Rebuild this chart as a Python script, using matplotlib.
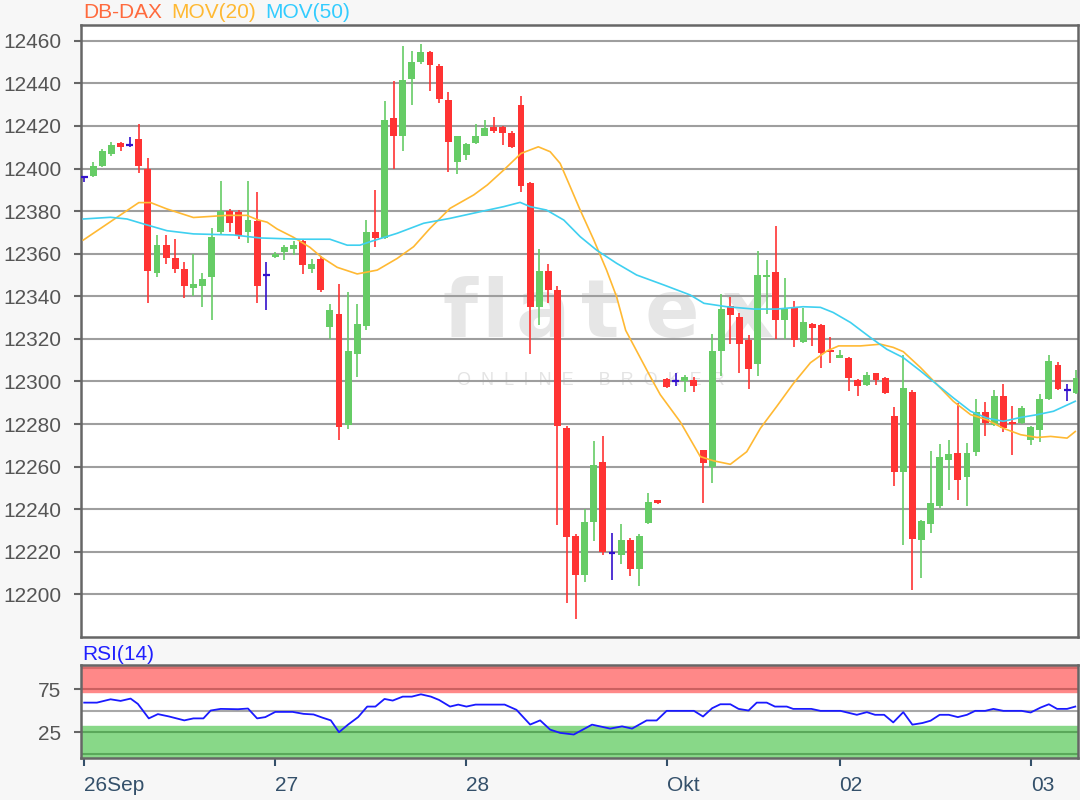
import numpy as np
import matplotlib.pyplot as plt

plt.rcParams['font.family'] = ['Liberation Sans', 'DejaVu Sans']

# OHLC candles (one per trading interval)
opens = [12396, 12396.5, 12401, 12407, 12412, 12411, 12414, 12400, 12351, 12364,
         12358, 12353, 12344, 12345, 12349, 12370, 12380, 12379.5, 12370, 12375.5,
         12350, 12358.5, 12361, 12362, 12366, 12353, 12357.5, 12325.5, 12331.5, 12279.5,
         12313, 12326, 12370, 12367.5, 12423.5, 12415.5, 12442, 12450, 12454.5, 12448,
         12432, 12403, 12406.5, 12412, 12415.5, 12419.5, 12419.5, 12416.5, 12430, 12393,
         12335, 12352, 12343, 12278, 12227.5, 12209, 12234, 12262, 12219.5, 12218.5,
         12225.5, 12212, 12233.5, 12244.5, 12301, 12300, 12300, 12300.5, 12268, 12260,
         12314.5, 12335.5, 12330.5, 12319.5, 12308, 12349, 12351.5, 12329, 12335, 12318.5,
         12327, 12326.5, 12315, 12311, 12311, 12300.5, 12298.5, 12304, 12301.5, 12284,
         12257.5, 12295, 12225.5, 12233, 12241.5, 12263, 12266.5, 12255, 12267, 12285.5,
         12279.5, 12293, 12281, 12280.5, 12272.5, 12277, 12292, 12307.5, 12296, 12294.5]
highs = [12396.5, 12403, 12409, 12412.5, 12412.5, 12415, 12421, 12405, 12369, 12369,
         12367, 12356, 12360, 12351, 12372, 12394, 12381, 12380.5, 12394, 12389,
         12356, 12361, 12364, 12366, 12367, 12357.5, 12359, 12336.5, 12346, 12342,
         12336.5, 12376, 12390, 12431.5, 12441, 12457.5, 12455, 12458.5, 12455, 12449,
         12436, 12415.5, 12412, 12421, 12423, 12424, 12420, 12417.5, 12434, 12393.5,
         12362, 12355, 12345, 12279, 12228.5, 12240, 12272, 12274.5, 12229, 12233,
         12226.5, 12228.5, 12247.5, 12244.5, 12301.5, 12304, 12303, 12302, 12268, 12322.5,
         12341, 12339.5, 12332, 12322, 12361.5, 12357, 12373, 12348.5, 12338, 12334.5,
         12327.5, 12327, 12321, 12315, 12311.5, 12301, 12304.5, 12304, 12302, 12288,
         12312.5, 12296, 12235, 12267.5, 12270.5, 12272.5, 12290, 12271, 12292, 12290.5,
         12296, 12299, 12288.5, 12288.5, 12279, 12294, 12312.5, 12309, 12299, 12305.5]
lows = [12393.5, 12396, 12400.5, 12406, 12408, 12410, 12398, 12337, 12349, 12355,
        12351, 12339, 12340, 12335, 12329, 12369, 12370, 12367, 12365, 12337,
        12333.5, 12358, 12357, 12359.5, 12350.5, 12351, 12342, 12320, 12272.5, 12277.5,
        12302, 12324, 12363, 12367, 12400, 12408, 12430, 12449, 12436.5, 12431,
        12398.5, 12397.5, 12404, 12411.5, 12415.5, 12416.5, 12411, 12409.5, 12389, 12313,
        12326.5, 12337, 12232.5, 12196, 12188.5, 12206, 12225, 12218.5, 12207, 12214.5,
        12208.5, 12204, 12233, 12242.5, 12297, 12298, 12295, 12295, 12243, 12252.5,
        12302.5, 12317.5, 12304, 12296.5, 12302.5, 12331.5, 12320, 12320, 12316, 12318,
        12316.5, 12306.5, 12308.5, 12311, 12295.5, 12293, 12298, 12298.5, 12294, 12251,
        12223, 12202, 12207.5, 12229, 12240.5, 12249, 12244.5, 12241.5, 12265, 12274.5,
        12279, 12276.5, 12265.5, 12280, 12270, 12271.5, 12291.5, 12296, 12291, 12294]
closes = [12396, 12401, 12408, 12411, 12410, 12411, 12401, 12352, 12364, 12358,
          12353, 12345, 12346, 12348, 12368, 12380, 12374.5, 12369, 12376, 12345,
          12350, 12360, 12363, 12364, 12354.5, 12355, 12343, 12333.5, 12278.5, 12314.5,
          12327, 12370, 12367.5, 12423, 12415.5, 12441.5, 12450, 12454.5, 12448.5, 12432.5,
          12412.5, 12415.5, 12411.5, 12415.5, 12419, 12417.5, 12416.5, 12410, 12392, 12335,
          12352, 12343, 12279, 12227, 12209, 12234, 12261, 12220, 12219.5, 12225.5,
          12212, 12227.5, 12243.5, 12243, 12297.5, 12300, 12302, 12298, 12261.5, 12314.5,
          12334, 12331, 12317.5, 12306, 12350, 12350, 12329, 12334, 12319.5, 12328,
          12325, 12313.5, 12314, 12312.5, 12301.5, 12298, 12303, 12300.5, 12294.5, 12257.5,
          12297, 12226, 12234.5, 12243, 12264.5, 12266, 12253.5, 12266.5, 12285.5, 12280.5,
          12293, 12278, 12280, 12287.5, 12278.5, 12292, 12309.5, 12296.5, 12296, 12301.5]

# moving averages (x = candle position)
ma20_x = [-0.1, 6.0, 7.3, 9.1, 12.0, 15.7, 17.9, 19.0, 20.1, 21.2, 23.0, 24.8, 26.1, 27.8,
          30.0, 32.2, 34.4, 36.2, 38.0, 40.2, 42.8, 44.3, 46.1, 48.0, 49.9, 51.2, 52.3,
          53.4, 54.5, 56.0, 57.4, 58.5, 59.5, 62.2, 63.3, 65.5, 67.7, 69.2, 71.0, 72.8,
          74.3, 76.1, 77.9, 79.8, 81.6, 82.9, 85.3, 87.5, 88.9, 90.0, 91.9, 93.7, 95.5,
          97.4, 99.2, 101.0, 102.9, 104.7, 106.2, 108.0, 108.9]
ma20 = [12366.4, 12384, 12384, 12381, 12377, 12378, 12378, 12376, 12374.8, 12371.6,
        12367.7, 12363, 12358.3, 12353.6, 12350.5, 12352.3, 12357.8, 12363.3, 12371.9,
        12381.3, 12387.6, 12392.3, 12399.3, 12407.1, 12410.2, 12407.9, 12402.4, 12391.5,
        12380.5, 12366.4, 12352.3, 12339.8, 12324, 12302.3, 12293.8, 12281, 12264.7,
        12262.7, 12261.1, 12267, 12278, 12288.3, 12298.9, 12308.8, 12314.3, 12316.7,
        12316.7, 12317.5, 12316, 12314, 12306.5, 12298.6, 12290.7, 12284.4, 12282,
        12278, 12275, 12273.7, 12274.2, 12273.4, 12276.5]
ma50_x = [-0.1, 2.9, 4.7, 6.5, 9.1, 12.0, 16.4, 19.3, 23.7, 27.0, 28.9, 30.3, 31.4, 34.4,
          37.3, 40.2, 43.5, 46.1, 47.9, 49.0, 50.8, 52.7, 54.5, 56.3, 58.5, 60.7, 63.7,
          66.6, 68.1, 70.6, 73.6, 76.1, 79.0, 80.9, 82.3, 84.2, 86.4, 88.2, 90.0, 91.9,
          93.7, 95.5, 97.4, 99.2, 101.0, 102.9, 104.7, 106.5, 108.9]
ma50 = [12376.3, 12377.1, 12376.3, 12374, 12370.8, 12369.3, 12368.8, 12367.4, 12366.8,
        12366.8, 12364, 12364, 12365.6, 12369.6, 12374.3, 12376.6, 12379.7, 12382.1,
        12384.1, 12382.1, 12380.5, 12375.8, 12368, 12361.7, 12355.5, 12350, 12345.3,
        12340.6, 12336.7, 12335.1, 12334, 12334, 12335.1, 12334.8, 12332.4, 12327.7,
        12320.6, 12315.1, 12311.2, 12304.9, 12298.6, 12292.3, 12286, 12282.8, 12281.3,
        12283.1, 12284.4, 12286, 12290.7]

# RSI(14)
rsi_x = [0, 1.4, 2.9, 4.0, 5.1, 5.9, 7.1, 8.1, 9.3, 11.0, 12.0, 13.1, 13.9, 15.0, 16.9,
         18.0, 19.0, 19.9, 21.0, 22.9, 24.1, 25.2, 26.2, 27.1, 28.0, 29.0, 30.1, 31.1,
         32.0, 33.0, 33.9, 35.0, 36.0, 37.0, 38.1, 39.0, 40.2, 41.1, 42.0, 43.0, 46.2,
         47.5, 49.0, 50.1, 51.2, 52.3, 53.8, 55.8, 57.8, 59.1, 60.2, 61.8, 62.9, 64.0,
         67.0, 68.0, 69.0, 69.9, 71.0, 71.9, 73.0, 73.9, 75.0, 75.9, 77.2, 77.9, 79.9,
         80.9, 83.1, 84.9, 86.0, 86.9, 87.9, 88.9, 90.0, 91.0, 92.1, 93.0, 94.0, 95.0,
         96.0, 97.0, 97.9, 99.0, 99.9, 101.0, 103.0, 104.0, 105.1, 106.0, 106.9, 108.0,
         108.9]
rsi = [59.6, 59.6, 63.5, 61.6, 64.3, 58.1, 41.2, 46.2, 43.5, 38.9, 41.2, 41.2, 50.4, 52.3,
       51.9, 52.7, 41.2, 42.7, 48.8, 48.8, 46.5, 45.8, 42, 38.9, 25.1, 34, 42.7, 55, 55,
       63.9, 62, 66.6, 66.6, 69.3, 66.6, 62.7, 55, 57.3, 55, 57.3, 57.3, 51.2, 34, 38.9,
       28.1, 24.3, 22.4, 33.9, 29.3, 31.9, 29.3, 38.8, 38.8, 50, 50, 43.4, 53.1, 57.7,
       57.7, 52.3, 50.4, 59.6, 59.6, 55, 55, 52.3, 52.3, 50, 50, 45.4, 48.5, 45.4, 45.4,
       36.5, 48.5, 33.9, 35.8, 38.5, 45.4, 45.4, 42.7, 45.4, 50, 50, 52.3, 50, 50, 48.1,
       53.9, 57.7, 52.3, 52.3, 55]

day_ticks = [0, 21, 42, 64, 83, 104]
day_labels = ['26Sep', '27', '28', 'Okt', '02', '03']
price_ticks = list(range(12200, 12461, 20))

GREEN = '#66cc66'
RED = '#ff3333'
BLUE = '#3311cc'
AXCOL = '#666666'

fig = plt.figure(figsize=(10.8, 8), dpi=100, facecolor='#f7f7f7')
ax = fig.add_axes([81 / 1080, 1 - 637 / 800, 997 / 1080, 612 / 800])
rax = fig.add_axes([81 / 1080, 1 - 758 / 800, 997 / 1080, 93 / 800])

# watermark
for ch, px in zip('flatex', [460, 495, 543, 600, 672, 747]):
    ax.text((px - 84) / 9.1, 12321, ch, fontsize=58, fontweight='bold', color='#e6e6e6',
            ha='center', va='baseline', family='DejaVu Sans', zorder=0.5)
ax.text((591 - 84) / 9.1, 12298.4, 'O  N  L  I  N  E     B  R  O  K  E  R', fontsize=13,
        color='#e4e4e4', ha='center', va='baseline', zorder=0.5)

o = np.array(opens)
h = np.array(highs)
l = np.array(lows)
c = np.array(closes)
x = np.arange(len(o))
cols = np.where(c > o, GREEN, np.where(c < o, RED, BLUE))

ax.vlines(x, l, h, colors=cols, linewidth=1.2, zorder=3)
body = np.maximum(np.abs(c - o), 0.7)
solid = c != o
ax.bar(x[solid], body[solid], bottom=np.minimum(o, c)[solid], width=0.76,
       color=cols[solid], linewidth=0, zorder=4)
ax.hlines(o[~solid], x[~solid] - 0.38, x[~solid] + 0.38, colors=BLUE, linewidth=1.6, zorder=4)

ax.plot(ma20_x, ma20, color='#ffb933', linewidth=1.2, zorder=5)
ax.plot(ma50_x, ma50, color='#3fd0f0', linewidth=1.2, zorder=5)

ax.set_xlim(-0.35, 109.2)
ax.set_ylim(12180, 12467.4)
ax.set_yticks(price_ticks)
ax.set_yticklabels([str(v) for v in price_ticks])
ax.set_xticks([])
ax.grid(axis='y', color='#9e9e9e', linewidth=1.5, zorder=1)
ax.set_axisbelow(True)
ax.tick_params(axis='y', length=5, width=1.5, color=AXCOL, labelcolor='#555555',
               labelsize=15, pad=9)
for s in ax.spines.values():
    s.set_color(AXCOL)
    s.set_linewidth(1.8)

# RSI panel
rax.axhspan(72.5, 104, color='#ff8888', zorder=0)
rax.axhspan(-6, 32.5, color='#88d888', zorder=0)
rax.axhline(100, color='#d86a6a', linewidth=1.5, zorder=1)
rax.axhline(75, color='#cc6060', linewidth=1.5, zorder=1)
rax.axhline(25, color='#5aa85a', linewidth=1.5, zorder=1)
rax.axhline(0, color='#5aa85a', linewidth=1.5, zorder=1)
rax.axhline(50, color='#a8a8a8', linewidth=1.5, zorder=1)
rax.plot(rsi_x, rsi, color='#1a1aff', linewidth=1.3, zorder=3)
rax.set_xlim(-0.35, 109.2)
rax.set_ylim(-5, 103.5)
rax.set_yticks([25, 75])
rax.set_yticklabels(['25', '75'])
rax.tick_params(axis='y', length=5, width=1.5, color=AXCOL, labelcolor='#555555',
                labelsize=15, pad=9)
rax.set_xticks(day_ticks)
rax.set_xticklabels(day_labels, ha='left')
rax.tick_params(axis='x', length=6, width=1.5, color='#34506a', labelcolor='#34506a',
                labelsize=15, pad=7)
for s in rax.spines.values():
    s.set_color(AXCOL)
    s.set_linewidth(1.8)

# header texts
fig.text(83 / 1080, 1 - 13 / 800, 'DB-DAX', color='#ff6a3d', fontsize=15, va='center')
fig.text(171 / 1080, 1 - 13 / 800, 'MOV(20)', color='#ffb933', fontsize=15, va='center')
fig.text(265 / 1080, 1 - 13 / 800, 'MOV(50)', color='#33ccff', fontsize=15, va='center')
fig.text(82 / 1080, 1 - 654 / 800, 'RSI(14)', color='#2020ff', fontsize=15, va='center')

fig.savefig('out.png', dpi=100, facecolor=fig.get_facecolor())
